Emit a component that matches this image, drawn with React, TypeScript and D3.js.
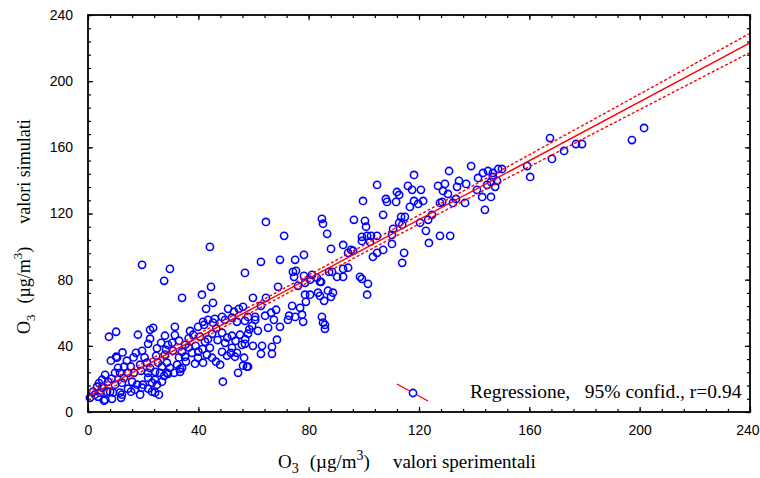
import * as d3 from "d3";
import { useEffect, useRef } from "react";

// valori sperimentali (x) / valori simulati (y), O3 in µg/m3
const osservazioni: [number, number][] = [
  [7.6, 45.5], [10.2, 48.5], [18.1, 46.7], [22.5, 49.7], [27.9, 46.1], [22.5, 44.3], [21.8, 41.2], [26.5, 41.8],
  [29.0, 40.6], [30.5, 41.8], [33.0, 43.1], [35.2, 40.6], [38.1, 46.7], [40.6, 45.5], [42.4, 42.5], [45.0, 47.3],
  [48.6, 47.9], [52.2, 46.1], [55.1, 46.7], [55.8, 40.6], [49.7, 41.8], [52.2, 38.8], [54.0, 35.8], [44.2, 38.8],
  [48.6, 36.4], [50.4, 34.0], [17.4, 35.8], [19.6, 37.0], [24.7, 34.0], [27.9, 34.6], [30.8, 37.0], [34.1, 36.4],
  [35.2, 33.4], [37.7, 35.8], [39.9, 32.8], [43.1, 34.6], [45.0, 32.8], [46.4, 30.4], [47.9, 28.6], [41.7, 29.8],
  [38.8, 29.2], [10.2, 33.4], [10.5, 32.8], [8.3, 31.0], [14.1, 31.0], [18.9, 28.6], [21.4, 29.8], [25.4, 29.8],
  [28.6, 29.8], [32.3, 28.6], [26.8, 27.4], [29.7, 26.7], [34.1, 26.7], [10.9, 26.7], [13.1, 27.4], [9.8, 23.7],
  [11.6, 23.7], [14.5, 23.7], [16.7, 23.7], [19.2, 24.9], [21.8, 23.7], [24.3, 24.3], [26.1, 23.7], [28.6, 23.7],
  [31.2, 23.7], [33.4, 26.1], [33.4, 24.3], [29.0, 23.1], [27.6, 21.9], [6.2, 22.5], [5.1, 19.5], [3.3, 15.3],
  [7.3, 18.3], [9.8, 16.5], [12.3, 17.7], [16.0, 18.3], [17.8, 16.5], [19.9, 16.5], [23.2, 17.7], [24.3, 19.5],
  [21.8, 20.7], [25.0, 16.5], [26.8, 18.3], [1.8, 12.3], [4.4, 11.7], [6.9, 12.3], [9.1, 11.7], [11.6, 11.7],
  [14.5, 14.1], [17.0, 13.5], [19.6, 14.7], [21.8, 14.1], [24.3, 11.7], [25.7, 10.5], [23.2, 12.3], [15.6, 12.3],
  [18.9, 10.5], [0.7, 8.6], [3.6, 9.2], [6.2, 7.4], [8.7, 8.0], [12.3, 10.5], [12.0, 8.6], [8.0, 12.3],
  [5.1, 14.7], [5.8, 6.8], [48.9, 18.3], [54.4, 23.7], [56.2, 28.0], [56.6, 32.8], [53.3, 33.4], [51.8, 35.8],
  [57.6, 27.4], [23.6, 50.9], [31.5, 51.5], [39.9, 51.5], [41.7, 54.5], [43.5, 55.7], [46.0, 56.3], [48.6, 57.5],
  [49.7, 55.7], [52.2, 57.0], [54.0, 54.5], [52.9, 60.6], [42.1, 52.7], [45.3, 54.0], [28.3, 37.6], [36.5, 39.0],
  [36.5, 44.5], [39.0, 40.0], [41.5, 38.0], [47.0, 43.5], [50.5, 45.0], [53.5, 43.0], [57.0, 44.0], [31.5, 46.5],
  [25.0, 38.5], [20.5, 33.0], [15.5, 27.5], [13.0, 20.5], [8.5, 20.0], [4.0, 17.5], [2.5, 10.5], [35.5, 30.5],
  [43.5, 44.0], [37.0, 49.0], [33.0, 33.0], [22.5, 26.5], [16.5, 33.0], [12.5, 36.0], [40.0, 36.5], [46.5, 50.5],
  [58.5, 50.0],
  [19.6, 89.0], [29.7, 86.5], [27.6, 79.3], [34.1, 69.0], [44.2, 99.8], [44.6, 75.7], [41.3, 70.9], [45.3, 66.0],
  [42.8, 62.4], [50.8, 62.4], [54.7, 62.4], [56.2, 63.6],
  [56.9, 55.1], [60.6, 55.7], [67.4, 55.7], [72.5, 55.7], [78.0, 54.5], [85.2, 54.0], [85.9, 52.7], [85.9, 50.3],
  [59.5, 52.1], [58.0, 47.3], [61.6, 49.1], [65.3, 50.9], [69.6, 51.5], [56.9, 41.2], [59.8, 40.0], [63.1, 40.0],
  [66.7, 39.4], [68.5, 43.7], [62.7, 35.2], [66.7, 35.2], [58.0, 27.4],
  [88.1, 98.6], [92.5, 101.0], [95.4, 98.0], [96.1, 97.4], [94.3, 96.2], [99.3, 103.4], [102.2, 102.8], [107.0, 98.0],
  [104.8, 96.2], [103.3, 93.8], [110.2, 101.6], [113.9, 90.2], [114.6, 96.2], [62.7, 90.8], [69.6, 92.0], [75.1, 92.0],
  [78.3, 95.0], [56.9, 84.1], [74.3, 84.7], [75.4, 85.3], [74.7, 81.7], [78.3, 82.3], [81.2, 82.9], [80.5, 79.9],
  [83.0, 81.1], [84.1, 78.7], [87.4, 84.7], [88.5, 84.7], [90.3, 81.7], [92.5, 86.5], [92.5, 81.7], [94.3, 87.2],
  [98.6, 81.7], [99.3, 80.5], [101.5, 77.5], [101.2, 70.9], [68.9, 75.7], [76.1, 76.3], [78.7, 78.1], [84.5, 78.7],
  [59.8, 69.0], [64.5, 69.0], [62.7, 64.2], [78.7, 70.9], [80.5, 70.9], [83.4, 72.1], [84.1, 70.2], [87.0, 73.3],
  [88.8, 72.1], [88.1, 69.6], [85.6, 67.2], [79.0, 66.6], [74.0, 64.2], [76.9, 63.0], [77.6, 58.8], [72.9, 58.2],
  [68.2, 61.8], [66.4, 60.0], [64.2, 58.2], [60.6, 57.5], [58.0, 57.5], [75.1, 57.5], [84.8, 57.5],
  [104.8, 137.3], [112.0, 133.0], [112.8, 131.2], [99.7, 127.6], [108.0, 128.8], [108.4, 127.0], [111.7, 127.0],
  [64.5, 114.9], [71.1, 106.5], [84.8, 116.8], [85.2, 113.8], [86.7, 107.7], [96.4, 116.2], [100.4, 115.6],
  [100.8, 112.0], [107.0, 119.2], [113.5, 118.0], [112.8, 114.4], [113.9, 113.2], [99.3, 105.9], [101.2, 106.5],
  [102.6, 106.5], [104.8, 106.5], [110.6, 110.7], [110.2, 107.1], [123.6, 102.2],
  [116.0, 136.7], [117.5, 134.3], [118.2, 143.3], [120.7, 134.3], [118.2, 127.6], [121.5, 127.6], [116.7, 124.0],
  [119.7, 125.8], [126.9, 136.7], [129.4, 137.9], [128.7, 133.6], [130.5, 131.8], [134.5, 139.7], [133.8, 136.1],
  [137.1, 137.9], [127.6, 126.4], [128.4, 127.0], [132.3, 126.4], [133.4, 128.8], [136.7, 126.4], [138.9, 148.7],
  [130.9, 145.7], [141.4, 141.5], [143.2, 144.5], [145.0, 145.7], [146.8, 144.5], [148.7, 146.9], [150.1, 146.9],
  [141.0, 134.3], [144.7, 137.3], [146.1, 139.1], [147.6, 136.1], [148.3, 139.7], [146.8, 142.1], [142.9, 130.0],
  [146.1, 130.0], [143.9, 122.2], [124.7, 119.2], [123.3, 116.2], [120.4, 114.4], [122.5, 109.5], [127.6, 106.5],
  [131.3, 106.5], [114.9, 118.0], [159.2, 148.7], [160.3, 142.1], [167.5, 165.6], [168.2, 153.0], [172.6, 157.8],
  [176.9, 162.0], [179.1, 162.0], [197.2, 164.4], [201.6, 171.7],
];

const tickPrincipali = [0, 40, 80, 120, 160, 200, 240];
const tickSecondari = [0, 8, 16, 24, 32, 40, 48, 56, 64, 72, 80, 88, 96, 104, 112, 120, 128, 136, 144, 152, 160,
  168, 176, 184, 192, 200, 208, 216, 224, 232, 240];

// retta di regressione e fascia di confidenza al 95%
const regressione = { intercetta: 9.5, pendenza: 0.89 };
const confidenza = { base: 2.0, crescita: 0.0302, centro: 60 };
const testoLegenda = "Regressione,   95% confid., r=0.94";

const W = 760;
const H = 478;
const plot = { left: 88, right: 750, top: 15, bottom: 412 };
const serif = "'Liberation Serif', 'Times New Roman', serif";
const sans = "'Liberation Sans', Arial, sans-serif";

const useD3 = (renderChartFn, dependencies) => {
  const ref = useRef(null);
  useEffect(() => {
    renderChartFn(d3.select(ref.current));
    return () => {};
  }, dependencies);
  return ref;
};

const Grafico = () => {
  const ref = useD3((svg) => {
    svg.selectAll("*").remove();

    const x = d3.scaleLinear().domain([0, 240]).range([plot.left, plot.right]);
    const y = d3.scaleLinear().domain([0, 240]).range([plot.bottom, plot.top]);

    const styleAxis = (g) => {
      g.select(".domain").remove();
      g.selectAll("line").attr("stroke", "#000").attr("stroke-width", 1.2);
      g.selectAll("text").attr("fill", "#000").style("font-family", sans).style("font-size", "14px");
    };

    // minor ticks, all four sides
    svg.append("g").attr("transform", `translate(0,${plot.bottom})`)
      .call(d3.axisBottom(x).tickValues(tickSecondari).tickSize(-3).tickFormat(() => "")).call(styleAxis);
    svg.append("g").attr("transform", `translate(0,${plot.top})`)
      .call(d3.axisTop(x).tickValues(tickSecondari).tickSize(-3).tickFormat(() => "")).call(styleAxis);
    svg.append("g").attr("transform", `translate(${plot.left},0)`)
      .call(d3.axisLeft(y).tickValues(tickSecondari).tickSize(-3).tickFormat(() => "")).call(styleAxis);
    svg.append("g").attr("transform", `translate(${plot.right},0)`)
      .call(d3.axisRight(y).tickValues(tickSecondari).tickSize(-3).tickFormat(() => "")).call(styleAxis);

    // major ticks + labels
    const bottom = svg.append("g").attr("transform", `translate(0,${plot.bottom})`)
      .call(d3.axisBottom(x).tickValues(tickPrincipali).tickSizeInner(-5).tickSizeOuter(0).tickPadding(13))
      .call(styleAxis);
    // last label kept inside the page
    bottom.selectAll("text").filter((d) => d === 240).attr("text-anchor", "end").attr("x", 9);
    svg.append("g").attr("transform", `translate(0,${plot.top})`)
      .call(d3.axisTop(x).tickValues(tickPrincipali).tickSize(-5).tickFormat(() => "")).call(styleAxis);
    svg.append("g").attr("transform", `translate(${plot.left},0)`)
      .call(d3.axisLeft(y).tickValues(tickPrincipali).tickSizeInner(-5).tickSizeOuter(0).tickPadding(15))
      .call(styleAxis);
    svg.append("g").attr("transform", `translate(${plot.right},0)`)
      .call(d3.axisRight(y).tickValues(tickPrincipali).tickSize(-5).tickFormat(() => "")).call(styleAxis);

    // punti
    svg.append("g")
      .selectAll("circle")
      .data(osservazioni)
      .enter()
      .append("circle")
      .attr("cx", (d) => x(d[0]))
      .attr("cy", (d) => y(d[1]))
      .attr("r", 3.6)
      .attr("fill", "none")
      .attr("stroke", "#0000ff")
      .attr("stroke-width", 1.6);

    // regressione + confidenza
    const xs = d3.range(0, 240.01, 4);
    const fit = (v) => regressione.intercetta + regressione.pendenza * v;
    const half = (v) => Math.sqrt(confidenza.base ** 2 + confidenza.crescita ** 2 * (v - confidenza.centro) ** 2);
    const line = d3.line().x((d) => x(d[0])).y((d) => y(d[1]));

    svg.append("path")
      .attr("d", line([[0, fit(0)], [240, fit(240)]]))
      .attr("fill", "none").attr("stroke", "#ff0000").attr("stroke-width", 1.4);
    [1, -1].forEach((s) => {
      svg.append("path")
        .attr("d", line(xs.map((v) => [v, fit(v) + s * half(v)])))
        .attr("fill", "none").attr("stroke", "#ff0000").attr("stroke-width", 1.4)
        .attr("stroke-dasharray", "3,2");
    });

    // cornice
    svg.append("rect")
      .attr("x", plot.left).attr("y", plot.top)
      .attr("width", plot.right - plot.left).attr("height", plot.bottom - plot.top)
      .attr("fill", "none").attr("stroke", "#000").attr("stroke-width", 1.8);

    // legenda
    const leg = svg.append("g");
    leg.append("line").attr("x1", 397).attr("y1", 384).attr("x2", 428).attr("y2", 401)
      .attr("stroke", "#ff0000").attr("stroke-width", 1.4);
    leg.append("circle").attr("cx", 413).attr("cy", 393).attr("r", 3.6)
      .attr("fill", "#fff").attr("stroke", "#0000ff").attr("stroke-width", 1.6);
    leg.append("text").attr("x", 470).attr("y", 398)
      .style("font-family", serif).style("font-size", "19.5px").style("white-space", "pre")
      .attr("fill", "#000").text(testoLegenda);

    // titoli assi
    const xt = svg.append("text").attr("x", 278).attr("y", 468)
      .style("font-family", serif).style("font-size", "19px").attr("fill", "#000");
    xt.append("tspan").text("O");
    xt.append("tspan").attr("dy", 5).style("font-size", "14px").text("3");
    xt.append("tspan").attr("dy", -5).attr("dx", 11).text("(µg/m");
    xt.append("tspan").attr("dy", -8).style("font-size", "14px").text("3");
    xt.append("tspan").attr("dy", 8).text(")");
    xt.append("tspan").attr("dx", 23).text("valori sperimentali");

    const yt = svg.append("text").attr("transform", "translate(30,334) rotate(-90)")
      .style("font-family", serif).style("font-size", "18px").attr("fill", "#000");
    yt.append("tspan").text("O");
    yt.append("tspan").attr("dy", 5).style("font-size", "13px").text("3");
    yt.append("tspan").attr("dy", -5).attr("dx", 11).text("(µg/m");
    yt.append("tspan").attr("dy", -8).style("font-size", "13px").text("3");
    yt.append("tspan").attr("dy", 8).text(")");
    yt.append("tspan").attr("dx", 23).text("valori simulati");
  }, []);

  return (
    <div style={{ position: "absolute", left: 0, top: 0 }}>
      <svg ref={ref} width={W} height={H} style={{ display: "block", background: "#fff" }}></svg>
    </div>
  );
};

export default function App() {
  return <Grafico />;
}
